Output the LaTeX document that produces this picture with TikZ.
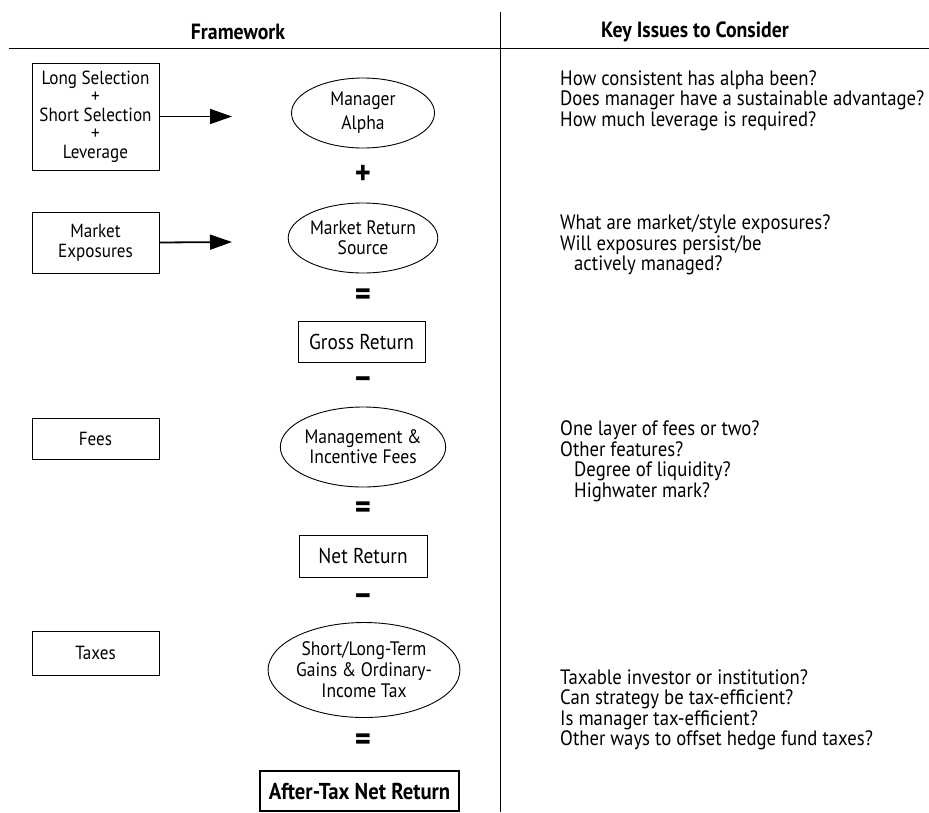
\documentclass[tikz,border=0pt]{standalone}
\usepackage{fontspec}
\setmainfont{PT Sans}[FakeStretch=0.9]
\usetikzlibrary{arrows.meta,shapes.geometric}
\begin{document}
\begin{tikzpicture}[x=1pt,y=-1pt,
  every node/.style={font=\fontsize{19.5}{20}\selectfont, inner sep=0pt, align=center},
  lbox/.style={draw, line width=0.9pt, minimum width=127pt, font=\fontsize{19}{20}\selectfont},
  ebox/.style={draw, ellipse, line width=0.9pt},
  rbox/.style={draw, line width=0.9pt, font=\fontsize{21.5}{22}\selectfont},
  opsym/.style={font=\fontsize{34}{34}\selectfont\bfseries},
  issue/.style={anchor=west, align=left, font=\fontsize{20.8}{20.5}\selectfont},
  hdr/.style={font=\fontsize{22}{22}\selectfont\bfseries},
  feed/.style={line width=1.8pt, -{Triangle[length=22pt,width=15pt]}}
]
\useasboundingbox (0,0) rectangle (929,812);
% header rules
\draw[line width=0.9pt] (9,48) -- (929,48);
\draw[line width=0.9pt] (500,12) -- (500,812);
\node[hdr] (hf) at (238,32) {Framework};
\node[hdr] (hk) at (695,32) {Key Issues to Consider};
% left boxes
\node[lbox, minimum height=107pt, font=\fontsize{19}{18.5}\selectfont] (l1) at (95.5,116.5) {Long Selection\\+\\Short Selection\\+\\Leverage};
\node[lbox, minimum height=61pt] (l2) at (95.5,242.5) {Market\\Exposures};
\node[lbox, minimum height=41pt] (l3) at (95.5,438.5) {Fees};
\node[lbox, minimum height=44pt] (l4) at (95.5,653) {Taxes};
% ellipses
\node[ebox, minimum width=143pt, minimum height=70pt, font=\fontsize{19.5}{24}\selectfont] (e1) at (363,113) {Manager\\Alpha};
\node[ebox, minimum width=143pt, minimum height=70pt] (e2) at (363,238) {Market Return\\Source};
\node[ebox, minimum width=159pt, minimum height=80pt] (e3) at (363,447) {Management \&\\Incentive Fees};
\node[ebox, minimum width=178pt, minimum height=95pt, font=\fontsize{19.5}{21}\selectfont] (e4) at (364,670) {Short/Long-Term\\Gains \& Ordinary-\\Income Tax};
% result boxes
\node[rbox, minimum width=127pt, minimum height=41pt] (gr) at (361.5,341.5) {Gross Return};
\node[rbox, minimum width=128pt, minimum height=42pt] (nr) at (363,556) {Net Return};
\node[rbox, line width=1.2pt, minimum width=199pt, minimum height=40pt, font=\fontsize{23}{23}\selectfont\bfseries] (ar) at (359.5,791) {After-Tax Net Return};
% operators
\node[opsym] (o1) at (363,175) {+};
\node[opsym] (o2) at (363,297) {=};
\node[opsym] (o3) at (363,383) {–};
\node[opsym] (o4) at (363,510) {=};
\node[opsym] (o5) at (363,600) {–};
\node[opsym] (o6) at (363,742) {=};
% arrows
\coordinate (a1) at (232,116.5);
\coordinate (a2) at (232,242);
\draw[feed] (l1.east) -- (a1);
\draw[feed] (l2.east) -- (a2);
% issues
\node[issue] (k1) at (560,100.5) {How consistent has alpha been?\\Does manager have a sustainable advantage?\\How much leverage is required?};
\node[issue] (k2) at (560,245) {What are market/style exposures?\\Will exposures persist/be\\\hspace*{14pt}actively managed?};
\node[issue] (k3) at (560,461.5) {One layer of fees or two?\\Other features?\\\hspace*{14pt}Degree of liquidity?\\\hspace*{14pt}Highwater mark?};
\node[issue] (k4) at (560,710) {Taxable investor or institution?\\Can strategy be tax-efficient?\\Is manager tax-efficient?\\Other ways to offset hedge fund taxes?};
\end{tikzpicture}
\end{document}
